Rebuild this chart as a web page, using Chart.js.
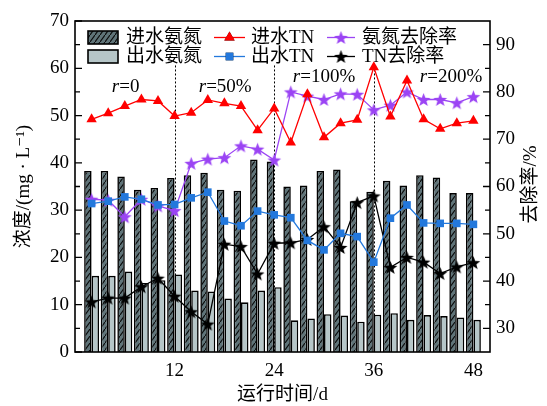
<!DOCTYPE html>
<html>
<head>
<meta charset="utf-8">
<script src="https://cdn.jsdelivr.net/npm/chart.js@4.4.1/dist/chart.umd.min.js"></script>
<style>
  html, body { margin: 0; padding: 0; background: #fff; }
  #wrap { width: 547px; height: 406px; position: relative; }
</style>
</head>
<body>
<div id="wrap"><canvas id="myChart"></canvas></div>
<script>
"use strict";

// sampling days
const days = [2, 4, 6, 8, 10, 12, 14, 16, 18, 20, 22, 24, 26, 28, 30, 32, 34, 36, 38, 40, 42, 44, 46, 48];

// concentrations, mg/L (left axis)
const inNH4 = [38.3, 38.3, 37.1, 34.3, 34.7, 36.8, 37.4, 37.9, 34.3, 34.1, 40.7, 40.3, 35.0, 35.2, 38.3, 38.6, 31.9, 33.9, 36.2, 35.2, 37.4, 36.9, 33.6, 33.6];
const outNH4 = [16.1, 16.1, 17.0, 14.6, 15.2, 16.4, 13.0, 12.8, 11.3, 10.5, 13.0, 13.7, 6.7, 7.1, 8.0, 7.7, 6.4, 7.9, 8.2, 6.8, 7.8, 7.6, 7.3, 6.8];
const inTN = [49.2, 50.5, 52.0, 53.4, 53.1, 49.9, 50.6, 53.3, 52.6, 52.0, 46.9, 51.5, 44.3, 54.5, 45.4, 48.4, 49.1, 60.2, 49.8, 57.4, 49.2, 47.2, 48.4, 48.9];
const outTN = [31.4, 31.9, 32.8, 32.3, 31.1, 31.2, 32.6, 33.8, 27.7, 26.7, 29.8, 29.0, 28.4, 23.6, 21.6, 25.1, 24.4, 19.0, 28.3, 31.1, 27.3, 27.2, 27.2, 27.0];

// removal rates, % (right axis)
const nh4Removal = [57.3, 57.1, 53.6, 57.3, 55.9, 54.9, 64.9, 65.8, 66.1, 68.6, 67.9, 65.6, 80.0, 79.1, 78.4, 79.6, 79.5, 76.2, 77.2, 80.0, 78.4, 78.4, 77.7, 79.0];
const tnRemoval = [35.6, 36.4, 36.4, 38.8, 40.6, 36.8, 33.5, 30.9, 47.8, 47.3, 41.5, 48.0, 48.1, 48.8, 51.5, 47.1, 56.6, 58.0, 42.9, 45.0, 44.0, 41.6, 43.0, 43.9];

const seriesNames = ["进水氨氮", "出水氨氮", "进水TN", "出水TN", "氨氮去除率", "TN去除率"];

// ticks
const xTicks = [12, 24, 36, 48];
const leftTicks = [0, 10, 20, 30, 40, 50, 60, 70];
const rightTicks = [30, 40, 50, 60, 70, 80, 90];

// reflux ratio phases
const phaseDays = [12, 24, 36];
const phaseLabels = ["0", "50%", "100%", "200%"];

const FONT = '"Times New Roman", "Liberation Serif", Tinos, "DejaVu Serif", "Noto Sans CJK SC", serif';
const font = { family: FONT, size: 19 };

function pts(vals) {
  return days.map((d, i) => ({ x: d, y: vals[i] }));
}

function hatchPattern() {
  const c = document.createElement("canvas");
  c.width = 5;
  c.height = 7;
  const g = c.getContext("2d");
  g.fillStyle = "#607479";
  g.fillRect(0, 0, 5, 7);
  g.strokeStyle = "#0a0a0a";
  g.lineWidth = 1.1;
  g.beginPath();
  g.moveTo(-1, 8.4);
  g.lineTo(6, -1.4);
  g.stroke();
  return g.createPattern(c, "repeat");
}

function starImage(color, size) {
  const c = document.createElement("canvas");
  c.width = size;
  c.height = size;
  const g = c.getContext("2d");
  const cx = size / 2, cy = size / 2 + 0.8;
  const R = size / 2 - 0.3, r = R * 0.42;
  g.beginPath();
  for (let i = 0; i < 10; i++) {
    const a = -Math.PI / 2 + i * Math.PI / 5;
    const rr = i % 2 ? r : R;
    g.lineTo(cx + rr * Math.cos(a), cy + rr * Math.sin(a));
  }
  g.closePath();
  g.fillStyle = color;
  g.fill();
  return c;
}

const RED = "#ff0000", BLUE = "#2378dc", PURPLE = "#9b44f4";
const hatch = hatchPattern();
const purpleStar = starImage(PURPLE, 15);
const blackStar = starImage("#000", 15);

// frame, inward ticks, phase lines, annotations, legend, right title
const decor = {
  id: "decor",
  beforeDatasetsDraw(chart) {
    const ctx = chart.ctx;
    const x = chart.scales.x, y = chart.scales.y;
    ctx.save();
    ctx.strokeStyle = "#000";
    ctx.lineWidth = 1;
    ctx.setLineDash([2, 2]);
    phaseDays.forEach(d => {
      const px = Math.round(x.getPixelForValue(d)) + 0.5;
      ctx.beginPath();
      ctx.moveTo(px, y.getPixelForValue(60.6));
      ctx.lineTo(px, y.getPixelForValue(0));
      ctx.stroke();
    });
    ctx.restore();
  },
  afterDatasetsDraw(chart) {
    const ctx = chart.ctx;
    const a = chart.chartArea;
    const x = chart.scales.x, y = chart.scales.y, y1 = chart.scales.y1;
    ctx.save();

    // frame
    ctx.strokeStyle = "#000";
    ctx.lineWidth = 1.6;
    ctx.strokeRect(a.left, a.top, a.right - a.left, a.bottom - a.top);

    // inward ticks
    ctx.lineWidth = 1.3;
    ctx.beginPath();
    leftTicks.forEach(v => {
      const py = y.getPixelForValue(v);
      ctx.moveTo(a.left, py); ctx.lineTo(a.left + 7, py);
      const pm = y.getPixelForValue(v + 5);
      if (v + 5 < 70) { ctx.moveTo(a.left, pm); ctx.lineTo(a.left + 5, pm); }
    });
    rightTicks.forEach(v => {
      const py = y1.getPixelForValue(v);
      ctx.moveTo(a.right, py); ctx.lineTo(a.right - 7, py);
      [v - 5, v + 5].forEach(m => {
        if (m > 25 && m < 95) {
          const pm = y1.getPixelForValue(m);
          ctx.moveTo(a.right, pm); ctx.lineTo(a.right - 5, pm);
        }
      });
    });
    ctx.stroke();

    // phase labels
    const spots = [[6.1, 56.0], [18.1, 56.0], [30.0, 58.2], [45.3, 58.2]];
    ctx.fillStyle = "#000";
    ctx.textBaseline = "middle";
    ctx.textAlign = "left";
    phaseLabels.forEach((lab, i) => {
      const cx = x.getPixelForValue(spots[i][0]);
      const cy = y.getPixelForValue(spots[i][1]);
      ctx.font = "italic 19px " + FONT;
      const wr = ctx.measureText("r").width;
      ctx.font = "19px " + FONT;
      const wt = ctx.measureText("=" + lab).width;
      const sx = cx - (wr + wt) / 2;
      ctx.font = "italic 19px " + FONT;
      ctx.fillText("r", sx, cy);
      ctx.font = "19px " + FONT;
      ctx.fillText("=" + lab, sx + wr, cy);
    });

    // legend
    const ds = chart.data.datasets;
    const rows = [37.5, 56.5];
    ctx.font = "19px " + FONT;
    [0, 1].forEach(i => {
      const ry = rows[i];
      ctx.fillStyle = ds[i].backgroundColor;
      ctx.fillRect(88, ry - 6.5, 30, 13);
      ctx.lineWidth = 1.6;
      ctx.strokeStyle = "#000";
      ctx.strokeRect(88, ry - 6.5, 30, 13);
      ctx.fillStyle = "#000";
      ctx.fillText(ds[i].label, 126, ry + 1);
    });
    const cols = [[214, 245, 251], [327, 355, 362]];
    [[2, 0, 0], [3, 1, 0], [4, 0, 1], [5, 1, 1]].forEach(([i, r, c]) => {
      const d = ds[i];
      const ry = rows[r];
      const [x0, x1, tx] = cols[c];
      ctx.strokeStyle = d.borderColor;
      ctx.lineWidth = 1.3;
      ctx.beginPath();
      ctx.moveTo(x0, ry); ctx.lineTo(x1, ry);
      ctx.stroke();
      const mx = (x0 + x1) / 2;
      if (d.pointStyle instanceof HTMLCanvasElement) {
        ctx.drawImage(d.pointStyle, mx - 7.5, ry - 7.5);
      } else {
        Chart.helpers.drawPoint(ctx, { pointStyle: d.pointStyle, radius: d.pointRadius, borderWidth: 0 }, mx, ry);
        ctx.fillStyle = d.backgroundColor;
        ctx.fill();
      }
      ctx.fillStyle = "#000";
      ctx.fillText(d.label, tx, ry + 1);
    });

    // right axis title
    ctx.translate(531, (a.top + a.bottom) / 2 - 2);
    ctx.rotate(-Math.PI / 2);
    ctx.textAlign = "center";
    ctx.fillText("去除率/%", 0, 0);
    ctx.restore();
  }
};

const barCommon = {
  type: "bar",
  yAxisID: "y",
  order: 2,
  borderColor: "#000",
  borderWidth: 1.6,
  categoryPercentage: 0.9,
  barPercentage: 1.0
};
const lineCommon = {
  type: "line",
  order: 1,
  borderWidth: 1.3,
  pointBorderWidth: 0,
  fill: false,
  tension: 0
};

const ctx = document.getElementById("myChart").getContext("2d");
const myChart = new Chart(ctx, {
  type: "bar",
  data: {
    datasets: [
      Object.assign({}, barCommon, { label: seriesNames[0], data: pts(inNH4), backgroundColor: hatch }),
      Object.assign({}, barCommon, { label: seriesNames[1], data: pts(outNH4), backgroundColor: "#b6c6c8" }),
      Object.assign({}, lineCommon, { label: seriesNames[2], data: pts(inTN), yAxisID: "y", borderColor: RED, backgroundColor: RED, pointStyle: "triangle", pointRadius: 6 }),
      Object.assign({}, lineCommon, { label: seriesNames[3], data: pts(outTN), yAxisID: "y", borderColor: BLUE, backgroundColor: BLUE, pointStyle: "rect", pointRadius: 5.4 }),
      Object.assign({}, lineCommon, { label: seriesNames[4], data: pts(nh4Removal), yAxisID: "y1", borderColor: PURPLE, backgroundColor: PURPLE, pointStyle: purpleStar, pointRadius: 7 }),
      Object.assign({}, lineCommon, { label: seriesNames[5], data: pts(tnRemoval), yAxisID: "y1", borderColor: "#000", backgroundColor: "#000", pointStyle: blackStar, pointRadius: 7 })
    ]
  },
  options: {
    responsive: true,
    maintainAspectRatio: false,
    animation: false,
    layout: { padding: { top: 21, left: 0, right: 0, bottom: 0 } },
    plugins: {
      legend: { display: false },
      tooltip: { enabled: false }
    },
    scales: {
      x: {
        type: "linear",
        min: 0,
        max: 50,
        offset: false,
        grid: { display: false, drawTicks: false },
        border: { display: false },
        afterBuildTicks: s => { s.ticks = xTicks.map(v => ({ value: v })); },
        afterFit: s => { s.height = 54; },
        ticks: { font: font, color: "#000", padding: 8, maxRotation: 0, autoSkip: false },
        title: { display: true, text: "运行时间/d", font: font, color: "#000", padding: { top: 1, bottom: 0 } }
      },
      y: {
        type: "linear",
        position: "left",
        min: 0,
        max: 70,
        grid: { display: false, drawTicks: false },
        border: { display: false },
        afterBuildTicks: s => { s.ticks = leftTicks.map(v => ({ value: v })); },
        afterFit: s => { s.width = 75; },
        ticks: { font: font, color: "#000", padding: 6 },
        title: { display: true, text: "浓度/(mg · L⁻¹)", font: font, color: "#000", padding: { top: 13, bottom: 0 } }
      },
      y1: {
        type: "linear",
        position: "right",
        min: 25,
        max: 95,
        grid: { display: false, drawTicks: false },
        border: { display: false },
        afterBuildTicks: s => { s.ticks = rightTicks.map(v => ({ value: v })); },
        afterFit: s => { s.width = 57; },
        ticks: { font: font, color: "#000", padding: 6 }
      }
    }
  },
  plugins: [decor]
});
</script>
</body>
</html>
